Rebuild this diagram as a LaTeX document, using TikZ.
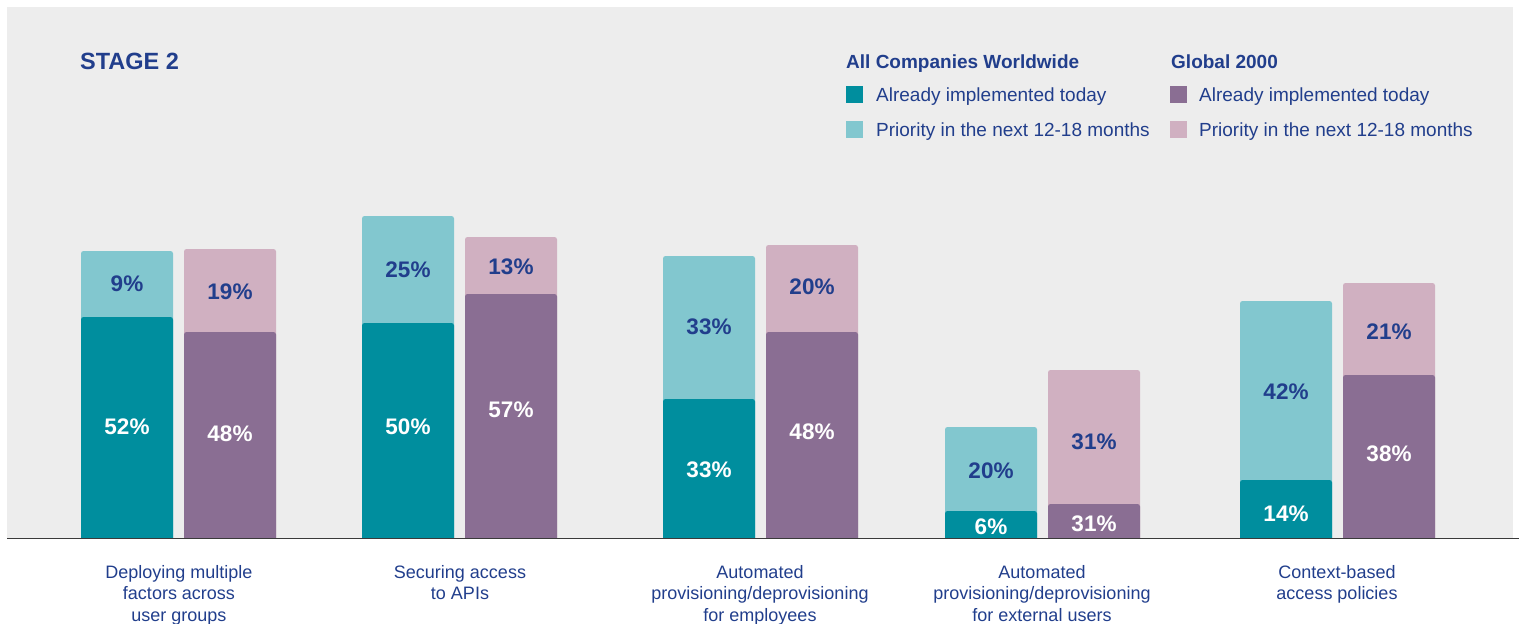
\documentclass[tikz,border=0pt]{standalone}
\usepackage{fontspec}
\setmainfont{Liberation Sans}
\definecolor{tealdark}{HTML}{008E9E}
\definecolor{teallight}{HTML}{82C7CF}
\definecolor{plumdark}{HTML}{8A6E93}
\definecolor{plumlight}{HTML}{D0B0C1}
\definecolor{navy}{HTML}{213E8C}
\definecolor{panel}{HTML}{EDEDED}
\definecolor{axisgray}{HTML}{3A3A3A}
\tikzset{
  seg/.style={rounded corners=2.5pt},
  pct/.style={font=\fontsize{22.5}{26}\selectfont\bfseries, inner sep=0pt},
  pctin/.style={pct, text=white},
  pctout/.style={pct, text=navy},
  cat/.style={anchor=north, align=center, text=navy, inner sep=0pt, font=\fontsize{18}{21.5}\selectfont},
  key/.style={anchor=base west, text=navy, inner sep=0pt, font=\fontsize{19}{22}\selectfont},
  keyhead/.style={key, font=\fontsize{19}{22}\selectfont\bfseries}
}
\begin{document}
\begin{tikzpicture}[x=1pt,y=-1pt]

  \useasboundingbox (0,0) rectangle (1519,624);
  \fill[panel] (7,7) rectangle (1513,538);

  \node[anchor=base west, text=navy, inner sep=0pt, font=\fontsize{23.5}{28}\selectfont\bfseries] (stage) at (80,69.5) {STAGE 2};

  % legend
  \node[keyhead] (allhead) at (846,68.5) {All Companies Worldwide};
  \node[keyhead] (g2khead) at (1171,68.5) {Global 2000};
  \fill[tealdark] (846,86) rectangle (863,103);
  \node[key] (allnow) at (876,101.5) {Already implemented today};
  \fill[teallight] (846,121) rectangle (863,138);
  \node[key] (allnext) at (876,136.5) {Priority in the next 12-18 months};
  \fill[plumdark] (1170,86) rectangle (1187,103);
  \node[key] (g2know) at (1199,101.5) {Already implemented today};
  \fill[plumlight] (1170,121) rectangle (1187,138);
  \node[key] (g2knext) at (1199,136.5) {Priority in the next 12-18 months};

  % deploying multiple factors
  \fill[teallight,seg] (81,538) -- (81,251) -- (173,251) -- (173,538);
  \fill[tealdark,seg] (81,538) -- (81,317) -- (173,317) -- (173,538);
  \node[pctout] (mfaAllT) at (127,284) {9\%};
  \node[pctin] (mfaAllB) at (127,427) {52\%};
  \fill[plumlight,seg] (184,538) -- (184,249) -- (276,249) -- (276,538);
  \fill[plumdark,seg] (184,538) -- (184,332) -- (276,332) -- (276,538);
  \node[pctout] (mfaG2kT) at (230,292) {19\%};
  \node[pctin] (mfaG2kB) at (230,434) {48\%};

  % securing access to apis
  \fill[teallight,seg] (362,538) -- (362,216) -- (454,216) -- (454,538);
  \fill[tealdark,seg] (362,538) -- (362,323) -- (454,323) -- (454,538);
  \node[pctout] (apiAllT) at (408,270) {25\%};
  \node[pctin] (apiAllB) at (408,427) {50\%};
  \fill[plumlight,seg] (465,538) -- (465,237) -- (557,237) -- (557,538);
  \fill[plumdark,seg] (465,538) -- (465,294) -- (557,294) -- (557,538);
  \node[pctout] (apiG2kT) at (511,267) {13\%};
  \node[pctin] (apiG2kB) at (511,410) {57\%};

  % provisioning for employees
  \fill[teallight,seg] (663,538) -- (663,256) -- (755,256) -- (755,538);
  \fill[tealdark,seg] (663,538) -- (663,399) -- (755,399) -- (755,538);
  \node[pctout] (empAllT) at (709,327) {33\%};
  \node[pctin] (empAllB) at (709,470) {33\%};
  \fill[plumlight,seg] (766,538) -- (766,245) -- (858,245) -- (858,538);
  \fill[plumdark,seg] (766,538) -- (766,332) -- (858,332) -- (858,538);
  \node[pctout] (empG2kT) at (812,287) {20\%};
  \node[pctin] (empG2kB) at (812,432) {48\%};

  % provisioning for external users
  \fill[teallight,seg] (945,538) -- (945,427) -- (1037,427) -- (1037,538);
  \fill[tealdark,seg] (945,538) -- (945,511) -- (1037,511) -- (1037,538);
  \node[pctout] (extAllT) at (991,471) {20\%};
  \node[pctin] (extAllB) at (991,527) {6\%};
  \fill[plumlight,seg] (1048,538) -- (1048,370) -- (1140,370) -- (1140,538);
  \fill[plumdark,seg] (1048,538) -- (1048,504) -- (1140,504) -- (1140,538);
  \node[pctout] (extG2kT) at (1094,442) {31\%};
  \node[pctin] (extG2kB) at (1094,524) {31\%};

  % context-based access policies
  \fill[teallight,seg] (1240,538) -- (1240,301) -- (1332,301) -- (1332,538);
  \fill[tealdark,seg] (1240,538) -- (1240,480) -- (1332,480) -- (1332,538);
  \node[pctout] (ctxAllT) at (1286,392) {42\%};
  \node[pctin] (ctxAllB) at (1286,514) {14\%};
  \fill[plumlight,seg] (1343,538) -- (1343,283) -- (1435,283) -- (1435,538);
  \fill[plumdark,seg] (1343,538) -- (1343,375) -- (1435,375) -- (1435,538);
  \node[pctout] (ctxG2kT) at (1389,332) {21\%};
  \node[pctin] (ctxG2kB) at (1389,454) {38\%};

  \draw[axisgray,line width=1.4pt] (7,538.5) -- (1519,538.5);

  % categories
  \node[cat] (mfa) at (179,565) {Deploying multiple\\factors across\\user groups};
  \node[cat] (api) at (460,565) {Securing access\\to APIs};
  \node[cat] (emp) at (760,565) {Automated\\provisioning/deprovisioning\\for employees};
  \node[cat] (ext) at (1042,565) {Automated\\provisioning/deprovisioning\\for external users};
  \node[cat] (ctx) at (1337,565) {Context-based\\access policies};

\end{tikzpicture}
\end{document}
